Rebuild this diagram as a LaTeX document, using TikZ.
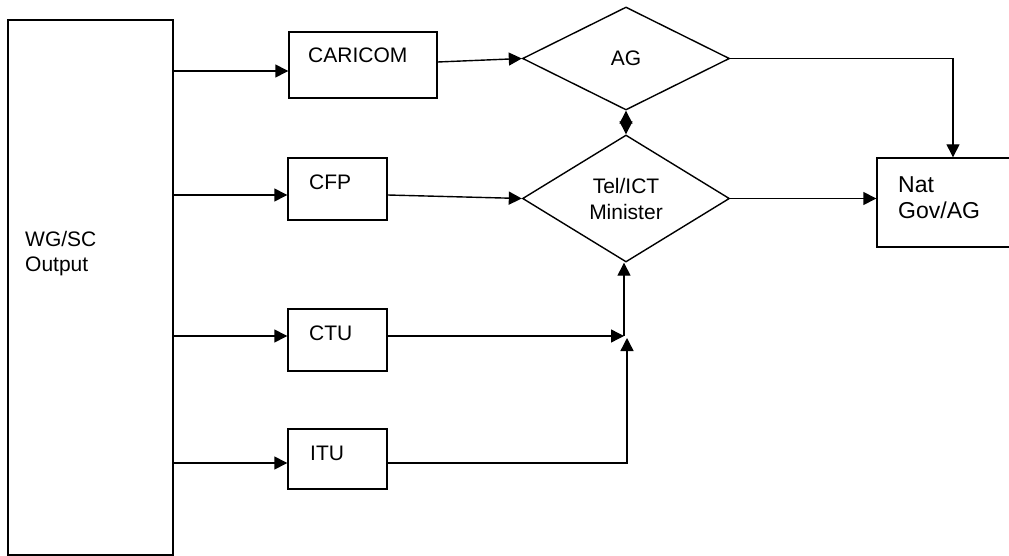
\documentclass[tikz,border=0pt]{standalone}
\usepackage{fontspec}
\setmainfont{Liberation Sans}
\usetikzlibrary{shapes.geometric,arrows.meta}

\tikzset{
	box/.style={draw, line width=1.4pt, inner sep=0pt},
	choice/.style={draw, diamond, line width=1.4pt, inner sep=0pt, align=center, font=\fontsize{21}{26}\selectfont},
	lbl/.style={inner sep=0pt, anchor=west, align=left, font=\fontsize{21}{25}\selectfont},
	tip/.style={Triangle[length=13pt,width=13pt]},
	flow/.style={line width=1.4pt, -{Triangle[length=13pt,width=13pt]}},
}

\begin{document}
\begin{tikzpicture}[x=1pt,y=-1pt]
	\useasboundingbox (0,0) rectangle (1009,556);

	\coordinate (r1) at (0,71);
	\coordinate (r2) at (0,195);
	\coordinate (r3) at (0,336);
	\coordinate (r4) at (0,463);

	\node [box, line width=2pt, minimum width=165, minimum height=535] (wg) at (90.5,287.5) {};
	\node [lbl] (wgtxt) at (25,254) {WG/SC\\Output};

	\node [box, minimum width=148, minimum height=66] (caricom) at (363,65) {};
	\node [box, minimum width=99, minimum height=62] (cfp) at (337.5,189) {};
	\node [box, minimum width=99, minimum height=62] (ctu) at (337.5,340) {};
	\node [box, minimum width=99, minimum height=60] (itu) at (337.5,459) {};

	\node [lbl] (caricomtxt) at (308,55) {CARICOM};
	\node [lbl] (cfptxt) at (309,182) {CFP};
	\node [lbl] (ctutxt) at (309,333) {CTU};
	\node [lbl] (itutxt) at (310,453) {ITU};

	\node [choice, minimum width=207, minimum height=103] (ag) at (626,58.5) {AG};
	\node [choice, minimum width=207, minimum height=127] (tel) at (626,198.5) {Tel/ICT\\Minister};

	\node [box, minimum width=152, minimum height=89] (nat) at (953,202.5) {};
	\node [lbl, font=\fontsize{23}{26}\selectfont] (nattxt) at (898,197.5) {Nat\\Gov/AG};

	\coordinate (join) at (624,336);
	\coordinate (join2) at (627,338);

	\draw [flow] (wg.east |- r1) -- (caricom.west |- r1);
	\draw [flow] (wg.east |- r2) -- (cfp.west |- r2);
	\draw [flow] (wg.east |- r3) -- (ctu.west |- r3);
	\draw [flow] (wg.east |- r4) -- (itu.west |- r4);

	\draw [flow] ([yshift=3pt]caricom.east) -- (ag.west);
	\draw [flow] (cfp.east |- r2) -- (tel.west);
	\draw [flow] (tel.east) -- (nat.west |- tel.east);
	\draw [flow] (ag.east) -| (nat.north);
	\draw [line width=1.4pt, {Triangle[length=13pt,width=13pt]}-{Triangle[length=13pt,width=13pt]}] (ag.south) -- (tel.north);

	\draw [flow] (ctu.east |- r3) -- (join);
	\draw [flow] (itu.east |- r4) -| (join2);
	\draw [flow] (join) -- (join |- tel.south);
\end{tikzpicture}
\end{document}
